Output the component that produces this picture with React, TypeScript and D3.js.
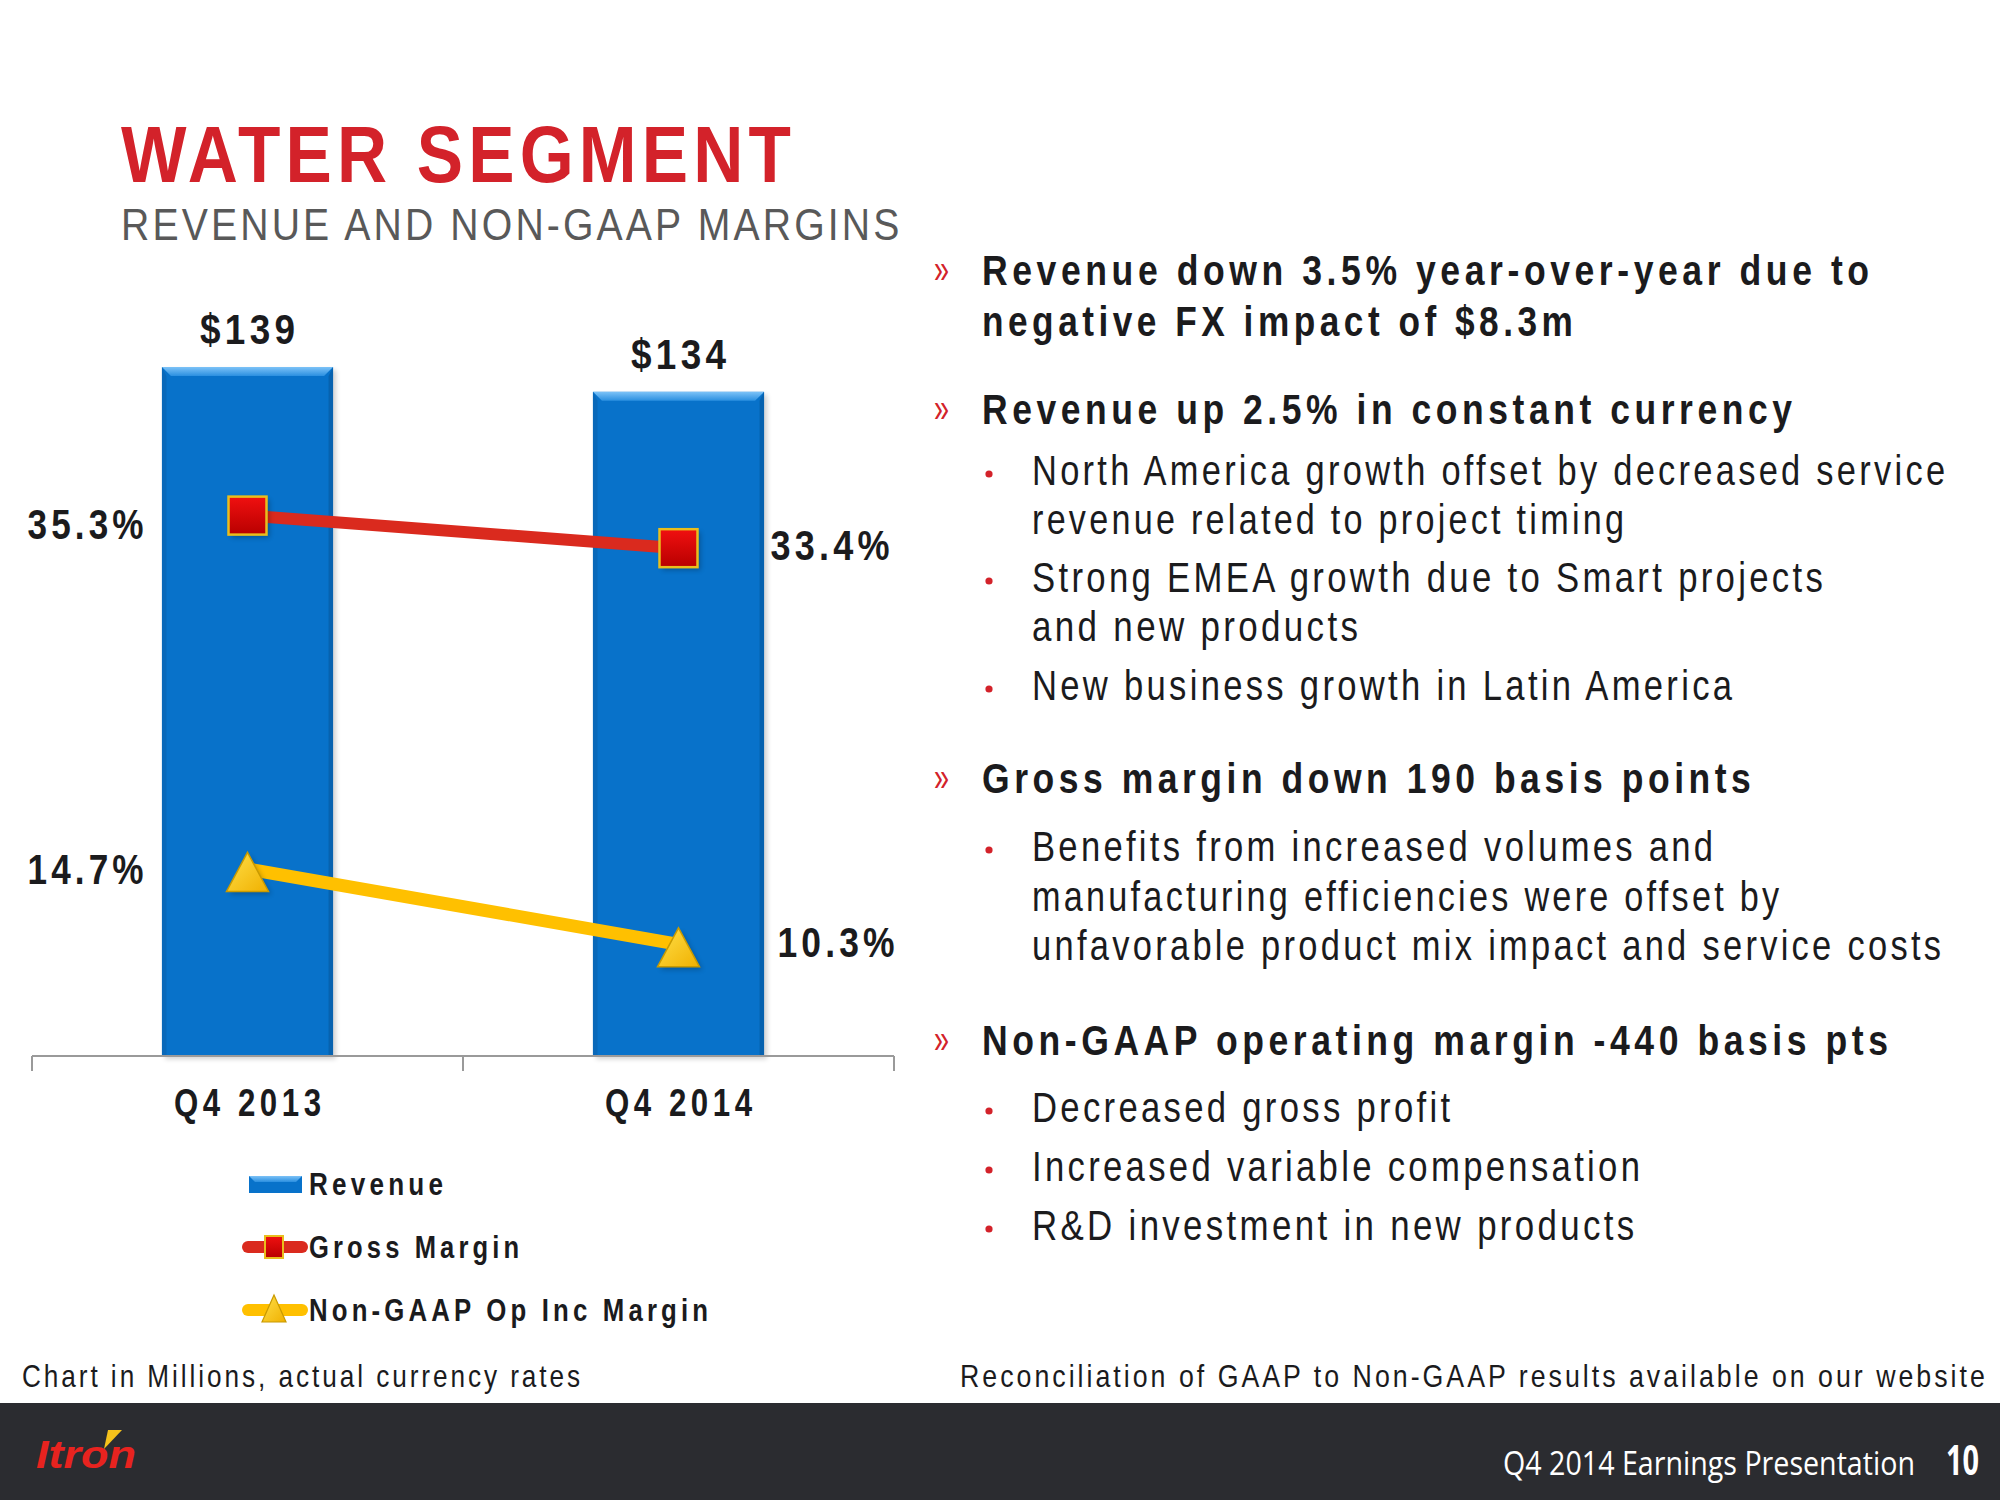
import React, { useLayoutEffect, useRef, useState } from "react";
import * as d3 from "d3";

const categories = ["Q4 2013", "Q4 2014"];
const revenue = [139, 134];
const revenueLabels = ["$139", "$134"];
const grossMargin = [35.3, 33.4];
const nonGaapMargin = [14.7, 10.3];
const grossLabels = ["35.3%", "33.4%"];
const nonGaapLabels = ["14.7%", "10.3%"];
const legendItems = ["Revenue", "Gross Margin", "Non-GAAP Op Inc Margin"];

type Line = { kind: "main" | "sub" | "cont"; text: string; y: number; w: number };
const bulletLines: Line[] = [
  { kind: "main", text: "Revenue down 3.5% year-over-year due to", y: 285, w: 887 },
  { kind: "cont", text: "negative FX impact of $8.3m", y: 336, w: 591 },
  { kind: "main", text: "Revenue up 2.5% in constant currency", y: 424, w: 810 },
  { kind: "sub", text: "North America growth offset by decreased service", y: 485, w: 913 },
  { kind: "cont", text: "revenue related to project timing", y: 534, w: 592 },
  { kind: "sub", text: "Strong EMEA growth due to Smart projects", y: 592, w: 791 },
  { kind: "cont", text: "and new products", y: 641, w: 326 },
  { kind: "sub", text: "New business growth in Latin America", y: 700, w: 700 },
  { kind: "main", text: "Gross margin down 190 basis points", y: 793, w: 769 },
  { kind: "sub", text: "Benefits from increased volumes and", y: 861, w: 681 },
  { kind: "cont", text: "manufacturing efficiencies were offset by", y: 911, w: 747 },
  { kind: "cont", text: "unfavorable product mix impact and service costs", y: 960, w: 909 },
  { kind: "main", text: "Non-GAAP operating margin -440 basis pts", y: 1055, w: 906 },
  { kind: "sub", text: "Decreased gross profit", y: 1122, w: 418 },
  { kind: "sub", text: "Increased variable compensation", y: 1181, w: 608 },
  { kind: "sub", text: "R&D investment in new products", y: 1240, w: 602 },
];

const SANS = "'Liberation Sans', Arial, sans-serif";
const RED = "#D3222A";
const TEXT = "#1B1B1D";

type TProps = {
  x: number; y: number; w: number; size: number; bold?: boolean; anchor?: "start" | "middle" | "end";
  spacing?: number; fill?: string; children: string; italic?: boolean; family?: string;
};
// Narrow look: the text is measured, then scaled horizontally so that it spans the measured width.
function T({ x, y, w, size, bold, anchor = "start", spacing = 0, fill = TEXT, children, italic, family = SANS }: TProps) {
  const ref = useRef<SVGTextElement>(null);
  const [k, setK] = useState(0.82);
  useLayoutEffect(() => {
    const el = ref.current;
    if (!el) return;
    const L = el.getComputedTextLength() - spacing;
    if (L > 0) setK(w / L);
  }, [w, children, size, spacing, family]);
  const shift = anchor === "end" ? spacing : anchor === "middle" ? spacing / 2 : 0;
  return (
    <text
      ref={ref}
      x={shift}
      y={0}
      transform={`translate(${x},${y}) scale(${k},1)`}
      fontFamily={family}
      fontWeight={bold ? "bold" : "normal"}
      fontStyle={italic ? "italic" : "normal"}
      fontSize={size}
      fill={fill}
      textAnchor={anchor}
      style={{ letterSpacing: `${spacing}px` }}
    >
      {children}
    </text>
  );
}

export default function App() {
  const W = 2000, H = 1500;
  const x = d3.scaleBand<string>().domain(categories).range([32, 894]);
  const yRev = d3.scaleLinear().domain([0, 160]).range([1056, 263]);
  const yPct = d3.scaleLinear().domain([0, 40]).range([1121, 435]);
  const barW = x.bandwidth() * 0.397;
  const cx = (c: string) => (x(c) as number) + x.bandwidth() / 2;

  const lineGen = d3
    .line<number>()
    .x((_, i) => cx(categories[i]))
    .y((d) => yPct(d));

  const bar = (left: number, top: number, w: number, h: number, key: string) => {
    const b = 9;
    return (
      <g key={key}>
        <rect x={left + 3} y={top + 3} width={w} height={h} fill="#000" opacity={0.18} filter="url(#blur)" />
        <rect x={left} y={top} width={w} height={h} fill="#0872CA" />
        <polygon points={`${left},${top} ${left + w},${top} ${left + w - b},${top + b} ${left + b},${top + b}`} fill="url(#bevelTop)" />
        <polygon points={`${left},${top} ${left + b * 0.5},${top + b} ${left + b * 0.5},${top + h} ${left},${top + h}`} fill="#0a62ad" opacity={0.6} />
        <polygon points={`${left + w},${top} ${left + w - b * 0.5},${top + b} ${left + w - b * 0.5},${top + h} ${left + w},${top + h}`} fill="#07589c" opacity={0.6} />
      </g>
    );
  };

  const squareMarker = (mx: number, my: number, s: number, key: string) => (
    <g key={key}>
      <rect x={mx - s / 2 + 3} y={my - s / 2 + 3} width={s} height={s} fill="#000" opacity={0.25} filter="url(#blur)" />
      <rect x={mx - s / 2} y={my - s / 2} width={s} height={s} fill="url(#redGrad)" stroke="#E9BE1C" strokeWidth={2.5} />
    </g>
  );
  const triMarker = (mx: number, my: number, w: number, h: number, key: string) => (
    <g key={key}>
      <polygon points={`${mx + 3},${my - h / 2 + 3} ${mx + w / 2 + 3},${my + h / 2 + 3} ${mx - w / 2 + 3},${my + h / 2 + 3}`} fill="#000" opacity={0.22} filter="url(#blur)" />
      <polygon points={`${mx},${my - h / 2} ${mx + w / 2},${my + h / 2} ${mx - w / 2},${my + h / 2}`} fill="url(#yelGrad)" stroke="#C99A00" strokeWidth={1.5} />
    </g>
  );

  return (
    <svg width={W} height={H} viewBox={`0 0 ${W} ${H}`} style={{ position: "absolute", left: 0, top: 0, display: "block", background: "#fff" }}>
      <defs>
        <filter id="blur" x="-20%" y="-20%" width="140%" height="140%">
          <feGaussianBlur stdDeviation="2.5" />
        </filter>
        <linearGradient id="bevelTop" x1="0" y1="0" x2="0" y2="1">
          <stop offset="0" stopColor="#7cc2f7" />
          <stop offset="1" stopColor="#2a8fe0" />
        </linearGradient>
        <linearGradient id="redGrad" x1="0" y1="0" x2="0" y2="1">
          <stop offset="0" stopColor="#F01010" />
          <stop offset="1" stopColor="#B80000" />
        </linearGradient>
        <linearGradient id="yelGrad" x1="0" y1="0" x2="1" y2="1">
          <stop offset="0" stopColor="#FFE04A" />
          <stop offset="1" stopColor="#F0B000" />
        </linearGradient>
      </defs>

      {/* Title */}
      <T x={121} y={182} w={670} size={80} bold spacing={6} fill={RED}>WATER SEGMENT</T>
      <T x={121} y={240} w={778} size={45} spacing={3.6} fill="#595959">REVENUE AND NON-GAAP MARGINS</T>

      {/* Bars */}
      {categories.map((c, i) =>
        bar(cx(c) - barW / 2, yRev(revenue[i]), barW, yRev(0) - yRev(revenue[i]), "b" + i)
      )}

      {/* Axis */}
      <line x1={x.range()[0]} x2={x.range()[1]} y1={yRev(0)} y2={yRev(0)} stroke="#9A9A9A" strokeWidth={2} />
      {[x.range()[0], ...categories.map((c) => (x(c) as number) + x.bandwidth())].map((t, i) => (
        <line key={"t" + i} x1={t} x2={t} y1={yRev(0)} y2={yRev(0) + 15} stroke="#9A9A9A" strokeWidth={2} />
      ))}
      {categories.map((c) => (
        <T key={c} x={cx(c)} y={1116} w={147} size={38} bold spacing={5.5} anchor="middle">{c}</T>
      ))}

      {/* Revenue labels */}
      {categories.map((c, i) => (
        <T key={"rl" + i} x={cx(c)} y={yRev(revenue[i]) - 23} w={95} size={43} bold spacing={5} anchor="middle">
          {revenueLabels[i]}
        </T>
      ))}

      {/* Lines */}
      <path d={lineGen(grossMargin) as string} fill="none" stroke="#DA2A1E" strokeWidth={12} />
      <path d={lineGen(nonGaapMargin) as string} fill="none" stroke="#FFC000" strokeWidth={13} />
      {categories.map((c, i) => squareMarker(cx(c), yPct(grossMargin[i]), 38, "sq" + i))}
      {categories.map((c, i) => triMarker(cx(c), yPct(nonGaapMargin[i]) + 3, 42, 39, "tr" + i))}

      {/* Margin labels */}
      <T x={cx(categories[0]) - 104} y={yPct(grossMargin[0]) + 23} w={116} size={43} bold spacing={5} anchor="end">{grossLabels[0]}</T>
      <T x={cx(categories[1]) + 92} y={yPct(grossMargin[1]) + 12} w={119} size={43} bold spacing={5}>{grossLabels[1]}</T>
      <T x={cx(categories[0]) - 104} y={yPct(nonGaapMargin[0]) + 15} w={116} size={43} bold spacing={5} anchor="end">{nonGaapLabels[0]}</T>
      <T x={cx(categories[1]) + 99} y={yPct(nonGaapMargin[1]) + 13} w={117} size={43} bold spacing={5}>{nonGaapLabels[1]}</T>

      {/* Legend */}
      <g>
        <rect x={249} y={1176} width={53} height={17} fill="#0872CA" />
        <polygon points="249,1176 302,1176 296,1182 255,1182" fill="url(#bevelTop)" />
        <T x={309} y={1195} w={134} size={31} bold spacing={5}>{legendItems[0]}</T>

        <line x1={248} x2={302} y1={1247} y2={1247} stroke="#DA2A1E" strokeWidth={12} strokeLinecap="round" />
        <rect x={265} y={1236} width={18} height={22} fill="url(#redGrad)" stroke="#E9BE1C" strokeWidth={2} />
        <T x={309} y={1258} w={210} size={31} bold spacing={5}>{legendItems[1]}</T>

        <line x1={248} x2={302} y1={1310} y2={1310} stroke="#FFC000" strokeWidth={12} strokeLinecap="round" />
        <polygon points="274,1295 286,1322 262,1322" fill="url(#yelGrad)" stroke="#C99A00" strokeWidth={1.2} />
        <T x={309} y={1321} w={399} size={31} bold spacing={5}>{legendItems[2]}</T>
      </g>

      {/* Bullets */}
      {bulletLines.map((l, i) => {
        const isMain = l.kind === "main";
        const prevMain = i > 0 && bulletLines[i - 1].kind === "main";
        const isBold = isMain || (l.kind === "cont" && prevMain);
        const tx = isBold ? 982 : 1032;
        return (
          <g key={"bl" + i}>
            {isMain && <T x={934} y={l.y - 2} w={15} size={40} fill={RED}>»</T>}
            {l.kind === "sub" && <circle cx={989} cy={l.y - 11} r={3.6} fill={RED} />}
            <T x={tx} y={l.y} w={l.w} size={isBold ? 43 : 42} bold={isBold} spacing={isBold ? 5.5 : 4}>
              {l.text}
            </T>
          </g>
        );
      })}

      {/* Footnotes */}
      <T x={22} y={1387} w={558} size={32} spacing={3.6}>Chart in Millions, actual currency rates</T>
      <T x={960} y={1387} w={1025} size={32} spacing={3.6}>Reconciliation of GAAP to Non-GAAP results available on our website</T>

      {/* Footer */}
      <rect x={0} y={1403} width={W} height={H - 1403} fill="#2B2C30" />
      <T x={36} y={1468} w={100} size={38} bold italic fill="#E8231F">Itron</T>
      <polygon points="108,1430 122,1430 104,1449" fill="#F5C21B" />
      <T x={1503} y={1475} w={412} size={33} fill="#FFFFFF" family="'Open Sans', 'Noto Sans', sans-serif">Q4 2014 Earnings Presentation</T>
      <T x={1946} y={1475} w={33} size={42} bold fill="#FFFFFF" family="'Open Sans', 'Noto Sans', sans-serif">10</T>
    </svg>
  );
}
